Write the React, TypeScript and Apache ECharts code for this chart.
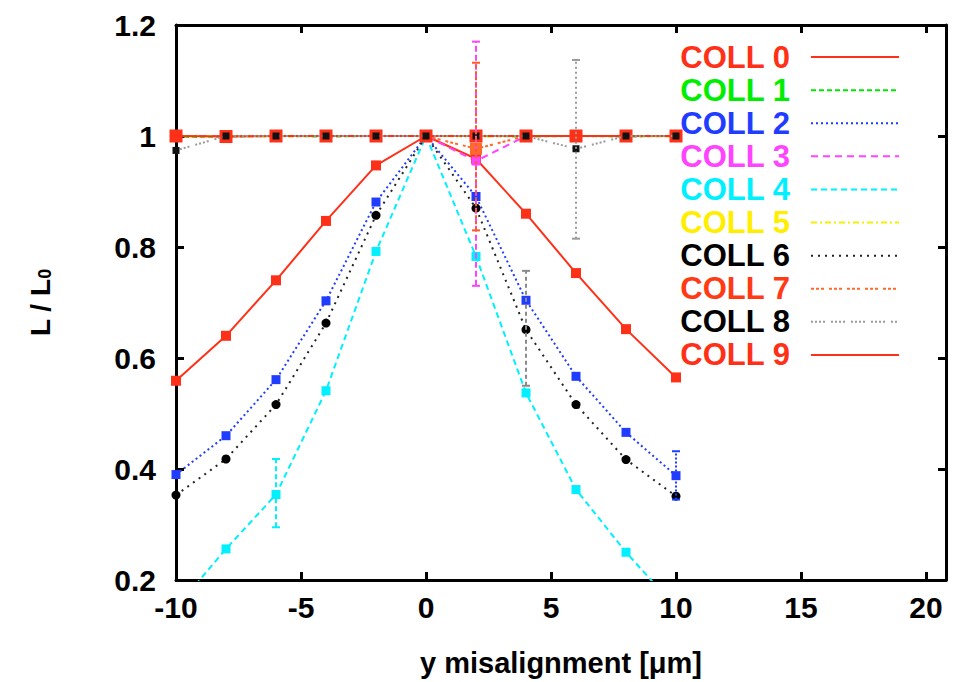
import React, { useEffect, useRef } from 'react';
import * as echarts from 'echarts';

// ---- data ----
const xValues = [-10, -8, -6, -4, -2, 0, 2, 4, 6, 8, 10];
const seriesNames = ['COLL 0', 'COLL 1', 'COLL 2', 'COLL 3', 'COLL 4', 'COLL 5', 'COLL 6', 'COLL 7', 'COLL 8', 'COLL 9'];

const coll0 = [0.559, 0.640, 0.740, 0.847, 0.947, 1.0, 0.959, 0.860, 0.753, 0.652, 0.565];
const coll1 = [0.998, 0.999, 1.0, 0.999, 1.0, 1.0, 1.0, 0.999, 1.0, 0.999, 1.0];
const coll2 = [0.390, 0.460, 0.561, 0.703, 0.881, 1.0, 0.891, 0.704, 0.567, 0.466, 0.388];
const coll3 = [1.0, 1.0, 1.0, 1.0, 1.0, 1.0, 0.955, 1.0, 1.0, 1.0, 1.0];
const coll4 = [0.150, 0.256, 0.354, 0.541, 0.792, 1.0, 0.783, 0.537, 0.363, 0.250, 0.150];
const coll5 = [0.999, 1.0, 0.999, 1.0, 1.0, 1.0, 0.999, 1.0, 1.0, 1.0, 0.999];
const coll6 = [0.353, 0.418, 0.516, 0.663, 0.857, 1.0, 0.870, 0.651, 0.516, 0.417, 0.351];
const coll7 = [1.0, 1.0, 1.0, 1.0, 1.0, 1.0, 0.977, 1.0, 1.0, 1.0, 1.0];
const coll8 = [0.974, 1.0, 1.0, 1.0, 1.0, 1.0, 1.0, 1.0, 0.977, 1.0, 1.0];
const coll9 = [1.0, 0.999, 1.0, 1.0, 1.0, 1.0, 1.0, 1.0, 1.0, 1.0, 1.0];
const allValues = [coll0, coll1, coll2, coll3, coll4, coll5, coll6, coll7, coll8, coll9];

// error bars: [x, low, high]
const err2 = [[10, 0.345, 0.432]];
const err3 = [[2, 0.73, 1.17]];
const err4 = [[-6, 0.295, 0.418]];
const err6 = [[4, 0.55, 0.757]];
const err7 = [[2, 0.83, 1.132]];
const err8 = [[6, 0.815, 1.137]];

// ---- styles ----
const FONT = 'Liberation Sans';
const styles: any[] = [
  { color: '#ff3018', text: '#ff3018', dash: 'solid', symbol: 'rect', size: 10 },
  { color: '#00e800', text: '#00ee00', dash: [5, 3], symbol: 'rect', size: 9 },
  { color: '#1f3cff', text: '#1f3cff', dash: [2, 3], symbol: 'rect', size: 9 },
  { color: '#ff44ff', text: '#ff44ff', dash: [7, 5], symbol: 'rect', size: 9 },
  { color: '#00f0ff', text: '#00f0ff', dash: [6, 4], symbol: 'rect', size: 9 },
  { color: '#f4f000', text: '#ffee00', dash: [6, 3, 2, 3], symbol: 'rect', size: 9 },
  { color: '#222222', text: '#000000', dash: [2, 5], symbol: 'circle', size: 9, item: '#000000' },
  { color: '#ff6a28', text: '#ff3a14', dash: [3, 2, 3, 2, 3, 5], symbol: 'rect', size: 12 },
  { color: '#9a9a9a', text: '#000000', dash: [2, 2, 2, 2, 2, 2, 2, 6], symbol: 'rect', size: 7, item: '#111111', z: 4 },
  { color: '#ff3018', text: '#ff3018', dash: 'solid', symbol: 'rect', size: 13 },
];

function errSeries(name: string, data: number[][], color: string, dash: any) {
  return {
    type: 'custom',
    name,
    data,
    encode: { x: 0, y: [1, 2] },
    z: 5,
    renderItem: (_p: any, api: any) => {
      const x = api.value(0);
      const lo = api.coord([x, api.value(1)]);
      const hi = api.coord([x, api.value(2)]);
      const st = { stroke: color, lineWidth: 2, lineDash: dash };
      return {
        type: 'group',
        children: [
          { type: 'line', shape: { x1: lo[0], y1: lo[1], x2: hi[0], y2: hi[1] }, style: st },
          { type: 'line', shape: { x1: lo[0] - 4, y1: lo[1], x2: lo[0] + 4, y2: lo[1] }, style: { stroke: color, lineWidth: 2 } },
          { type: 'line', shape: { x1: hi[0] - 4, y1: hi[1], x2: hi[0] + 4, y2: hi[1] }, style: { stroke: color, lineWidth: 2 } },
        ],
      };
    },
  };
}

export default function App() {
  const ref = useRef<HTMLDivElement>(null);
  useEffect(() => {
    if (!ref.current) return;
    const chart = echarts.init(ref.current, undefined, { renderer: 'svg' });
    const axisLine = { show: true, onZero: false, lineStyle: { color: '#000', width: 3 } };
    const tick = { show: true, inside: true, length: 8, lineStyle: { color: '#000', width: 3 } };
    const lineSeries = seriesNames.map((n, i) => ({
      type: 'line',
      name: n,
      data: xValues.map((x, j) => [x, allValues[i][j]]),
      symbol: styles[i].symbol,
      symbolSize: styles[i].size,
      z: styles[i].z ?? 2,
      lineStyle: { color: styles[i].color, width: 2, type: styles[i].dash },
      itemStyle: { color: styles[i].item ?? styles[i].color },
      emphasis: { disabled: true },
    }));
    chart.setOption({
      animation: false,
      backgroundColor: '#ffffff',
      textStyle: { fontFamily: FONT },
      grid: { left: 176, right: 10, top: 25, bottom: 99 },
      legend: {
        orient: 'vertical',
        right: 51,
        top: 35.5,
        align: 'right',
        itemGap: 0,
        itemWidth: 88,
        itemHeight: 14,
        selectedMode: false,
        itemStyle: { opacity: 0 },
        textStyle: { fontFamily: FONT, fontSize: 31, fontWeight: 'bold', lineHeight: 33.1, padding: [0, 16, 0, 0] },
        data: seriesNames.map((n, i) => ({ name: n, textStyle: { color: styles[i].text } })),
      },
      xAxis: [
        {
          type: 'value', min: -10, max: 20.8, interval: 5, position: 'bottom',
          axisLine, axisTick: tick, splitLine: { show: false },
          axisLabel: {
            margin: 12, color: '#000', fontSize: 30, fontWeight: 'bold', fontFamily: FONT,
            formatter: (v: number) => (Math.abs(v % 5) < 1e-6 ? String(v) : ''),
          },
          name: 'y misalignment [\u03bcm]', nameLocation: 'middle', nameGap: 68,
          nameTextStyle: { color: '#000', fontSize: 29, fontWeight: 'bold', fontFamily: FONT },
        },
        {
          type: 'value', min: -10, max: 20.8, interval: 5, position: 'top',
          axisLine, axisTick: tick, splitLine: { show: false }, axisLabel: { show: false },
        },
      ],
      yAxis: [
        {
          type: 'value', min: 0.2, max: 1.2, interval: 0.2, position: 'left',
          axisLine, axisTick: tick, splitLine: { show: false },
          axisLabel: { margin: 20, color: '#000', fontSize: 30, fontWeight: 'bold', fontFamily: FONT },
          name: '{a|L / L}{b|0}', nameLocation: 'middle', nameGap: 122,
          nameTextStyle: {
            color: '#000',
            rich: {
              a: { fontSize: 28, fontWeight: 'bold', fontFamily: FONT, color: '#000' },
              b: { fontSize: 18, fontWeight: 'bold', fontFamily: FONT, color: '#000', verticalAlign: 'bottom' },
            },
          },
        },
        {
          type: 'value', min: 0.2, max: 1.2, interval: 0.2, position: 'right',
          axisLine, axisTick: tick, splitLine: { show: false }, axisLabel: { show: false },
        },
      ],
      series: [
        ...lineSeries,
        errSeries('err COLL 2', err2, '#1f3cff', [2, 2]),
        errSeries('err COLL 3', err3, '#ff44ff', [6, 3]),
        errSeries('err COLL 4', err4, '#00f0ff', [5, 3]),
        errSeries('err COLL 6', err6, '#8a8a8a', [4, 3]),
        errSeries('err COLL 7', err7, '#ff5a20', [3, 3]),
        errSeries('err COLL 8', err8, '#9a9a9a', [2, 3]),
      ],
    });
    return () => chart.dispose();
  }, []);
  return (
    <div
      ref={ref}
      style={{ position: 'fixed', left: 0, top: 0, width: 956, height: 682, background: '#fff' }}
    />
  );
}
